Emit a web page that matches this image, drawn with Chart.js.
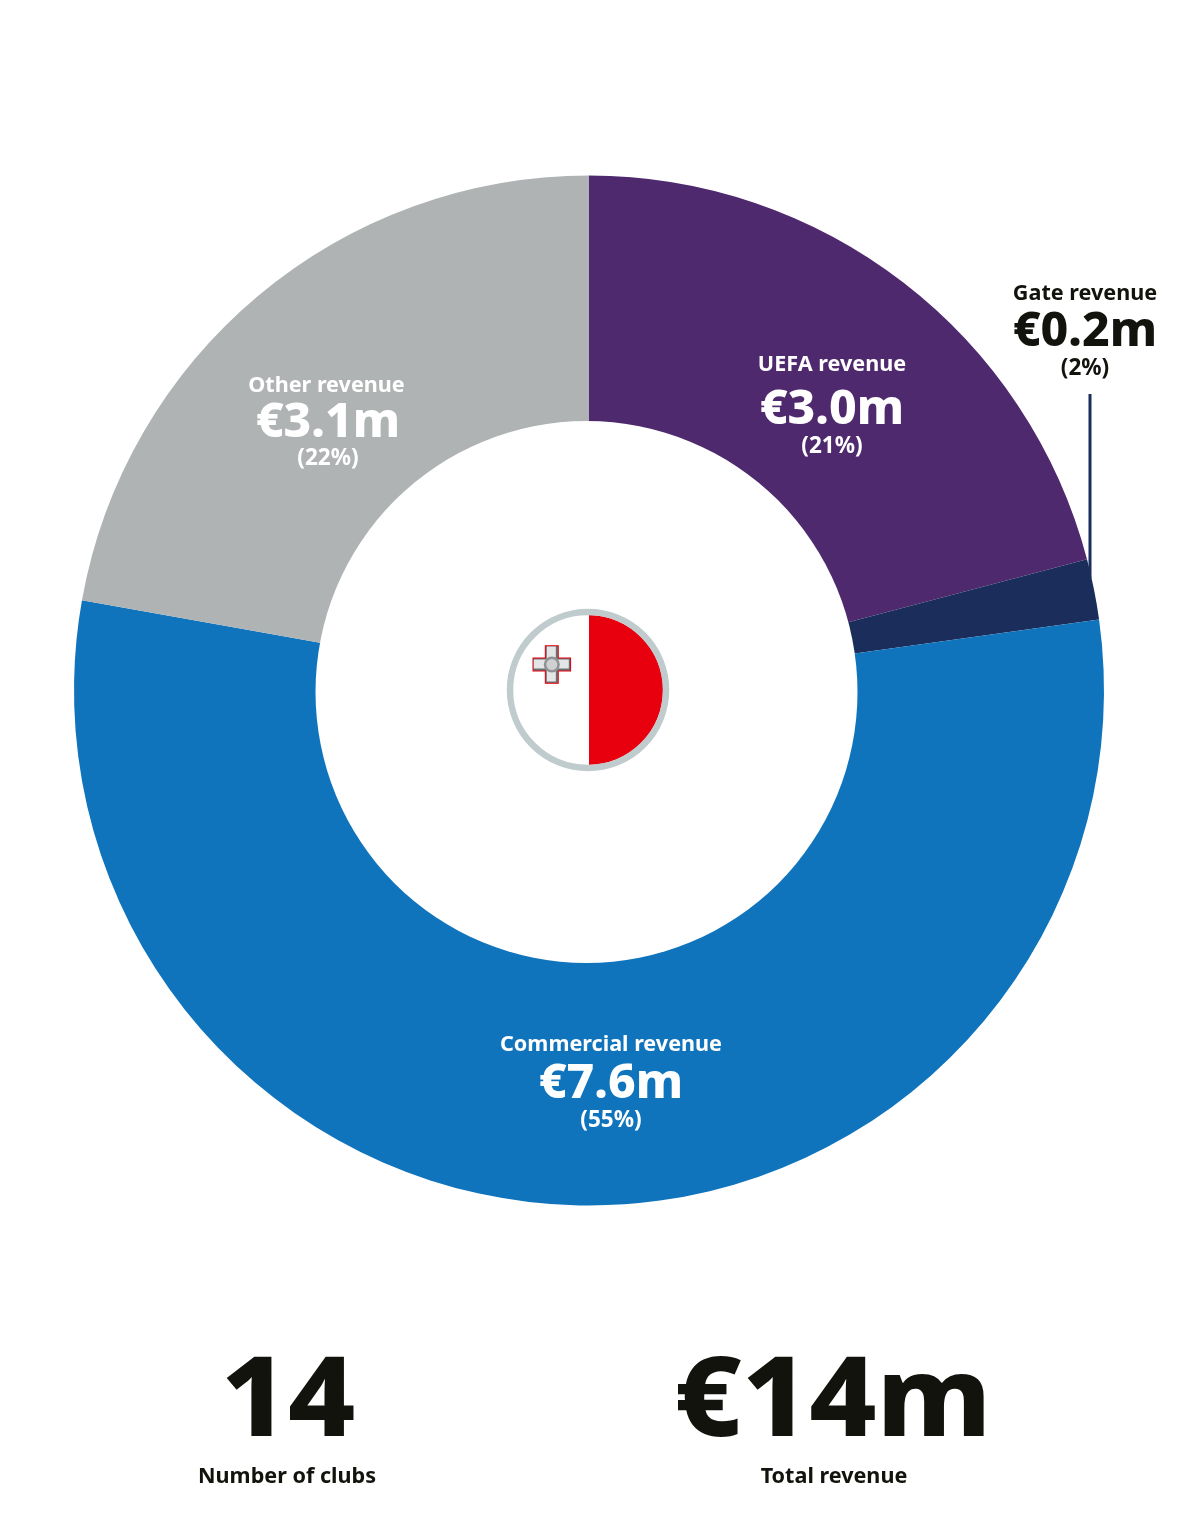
<!DOCTYPE html>
<html>
<head>
<meta charset="utf-8">
<script src="https://cdn.jsdelivr.net/npm/chart.js@4"></script>
<style>
body{margin:0;background:#fff;width:1183px;height:1523px;overflow:hidden;position:relative;font-family:"Noto Sans",sans-serif;font-weight:700}
canvas{position:absolute;left:0;top:0}
.t{position:absolute;transform:translate(-50%,-50%);white-space:nowrap;line-height:1;color:#12130d}
.w{color:#fff}
.b{font-weight:800}
.big{transform:translate(-50%,-50%) scaleX(1.05)}
</style>
</head>
<body>
<canvas id="chart" width="1183" height="1523"></canvas>
<script>
const categories = ["UEFA revenue","Gate revenue","Commercial revenue","Other revenue"];
// arc sizes in %
const drawnShares = [20.9,1.9,55,22.2];
const amounts = ["€3.0m","€0.2m","€7.6m","€3.1m"];
const printedShares = ["(21%)","(2%)","(55%)","(22%)"];
const colors = ['#4f296e','#1b2d5b','#1074bd','#b0b3b4'];
const totals = ["14","€14m"];
const totalLabels = ["Number of clubs","Total revenue"];

// name x, amount x, y of name, amount and percent lines
const labelPos = [
    [832,832,363,406,445],
    [1085,1085,292,328,367],
    [611,611,1043,1080,1119],
    [326.5,328,384,419,457]
];
const totalX = [288,833];
const totalLabelX = [287,834];

function addText(str,x,y,size,cls){
    let d = document.createElement('div');
    d.className = 't '+(cls||'');
    d.textContent = str;
    d.style.left = x+'px';
    d.style.top = y+'px';
    d.style.fontSize = size+'px';
    document.body.appendChild(d);
}

categories.forEach((c,i)=>{
    let p = labelPos[i];
    let cls = i==1 ? '' : 'w';
    addText(c,p[0],p[2],21.6,cls);
    addText(amounts[i],p[1],p[3],48,cls+' b');
    addText(printedShares[i],p[1],p[4],22.5,cls);
});
totals.forEach((t,i)=>{
    addText(t,totalX[i],1392.5,111,'b big');
    addText(totalLabels[i],totalLabelX[i],1475,21.6);
});

// hole, flag and the leader line of the small slice
const decorations = {
    id:'decorations',
    afterDatasetsDraw(chart){
        let c = chart.ctx;
        let arc = chart.getDatasetMeta(0).data[0];
        let cx = arc.x, cy = arc.y;
        c.save();
        // hole sits slightly off centre in the reference
        c.fillStyle = '#fff';
        c.beginPath();
        c.arc(cx-2.5,cy+1.5,271,0,Math.PI*2);
        c.fill();
        // leader
        c.fillStyle = colors[1];
        c.fillRect(cx+499.5,394,3,184);
        // flag
        let fx = cx-1, fy = cy-0.5;
        c.save();
        c.beginPath();
        c.rect(cx,fy-80,80,160);
        c.clip();
        c.fillStyle = '#e8000f';
        c.beginPath();
        c.arc(fx,fy,75,0,Math.PI*2);
        c.fill();
        c.restore();
        c.strokeStyle = '#c0cbce';
        c.lineWidth = 6.5;
        c.beginPath();
        c.arc(fx,fy,78,0,Math.PI*2);
        c.stroke();
        // george cross
        let gx = fx-36.2, gy = fy-25.5;
        c.fillStyle = '#e8000f';
        c.fillRect(gx-7,gy-19.3,14,38.6);
        c.fillRect(gx-19.3,gy-7,38.6,14);
        c.fillStyle = '#6d7072';
        c.fillRect(gx-6,gy-18.3,12,36.6);
        c.fillRect(gx-18.3,gy-6,36.6,12);
        c.fillStyle = '#e4e5e6';
        c.fillRect(gx-5,gy-18,9,35);
        c.fillRect(gx-18,gy-5,35,9);
        c.fillStyle = '#8f9193';
        c.beginPath();
        c.arc(gx,gy,8,0,Math.PI*2);
        c.fill();
        c.fillStyle = '#cfd0d1';
        c.beginPath();
        c.arc(gx,gy,5.5,0,Math.PI*2);
        c.fill();
        c.restore();
    }
};

let ctx = document.getElementById('chart').getContext('2d');
let chart = new Chart(ctx,{
    type:'doughnut',
    data:{
        labels:categories,
        datasets:[{
            data:drawnShares,
            backgroundColor:colors,
            borderWidth:0,
            hoverOffset:0
        }]
    },
    options:{
        responsive:false,
        animation:false,
        cutout:'50%',
        layout:{padding:{left:74,right:79,top:175.5,bottom:317.5}},
        plugins:{legend:{display:false},tooltip:{enabled:false}}
    },
    plugins:[decorations]
});
</script>
</body>
</html>
